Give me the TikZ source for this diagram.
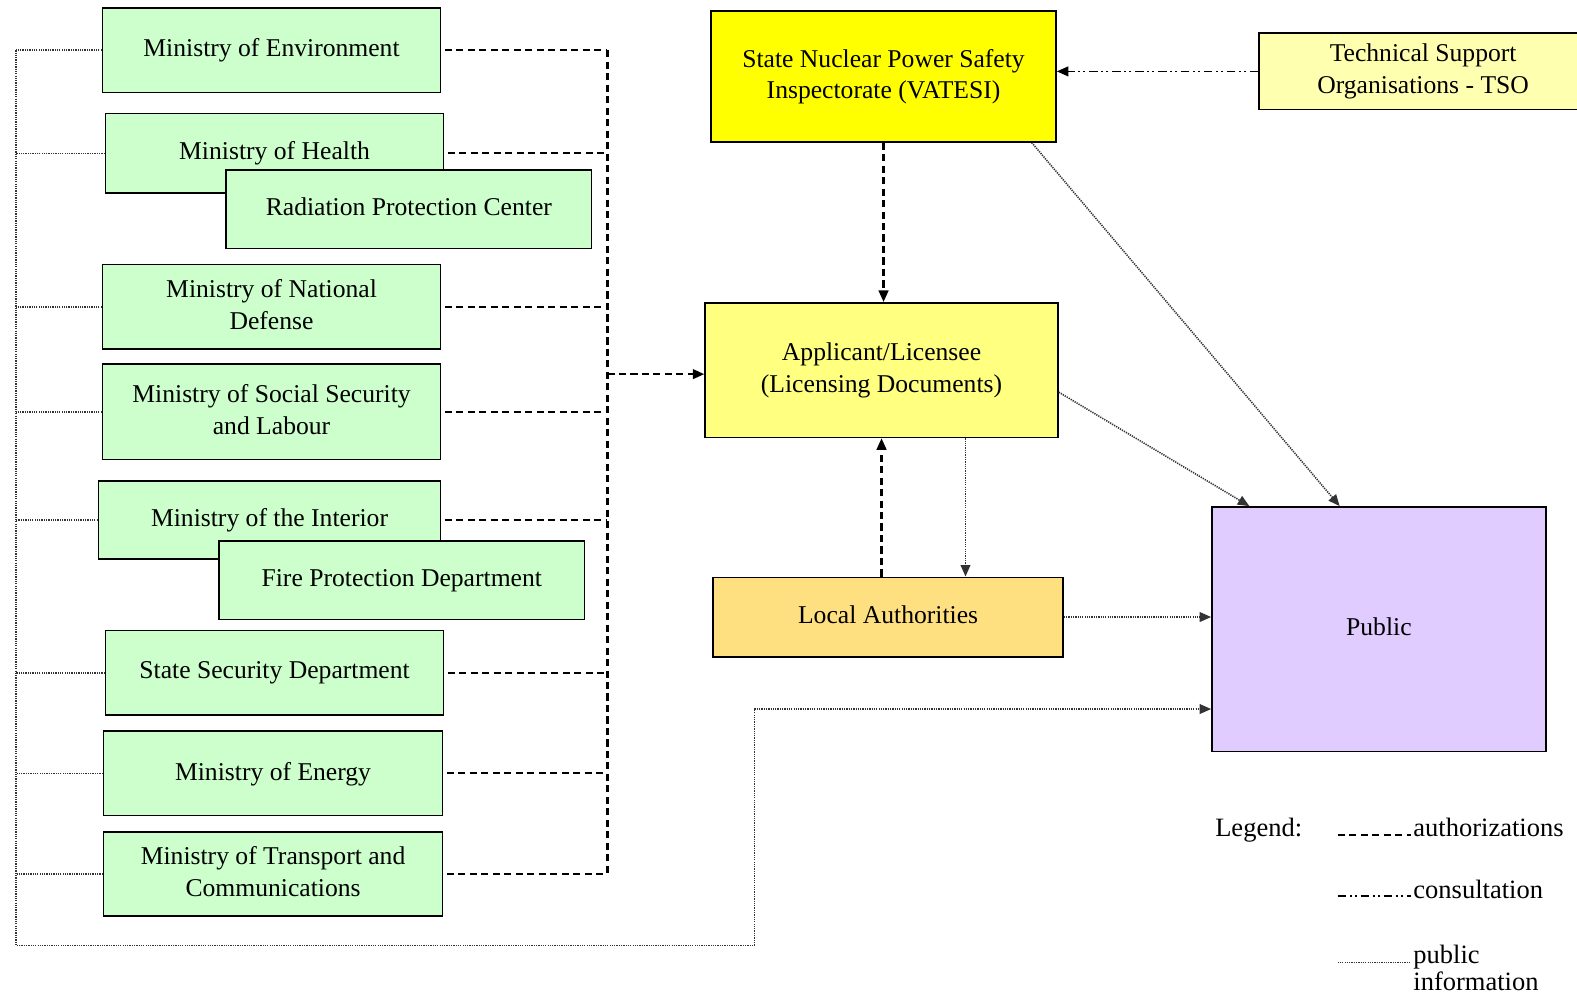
\documentclass[tikz,border=0pt]{standalone}
\usepackage{fontspec}
\setmainfont{Liberation Serif}
\usetikzlibrary{arrows.meta}
\definecolor{mingreen}{HTML}{CCFFCC}
\definecolor{vatyellow}{HTML}{FFFF00}
\definecolor{tsoyellow}{HTML}{FFFFB0}
\definecolor{applyellow}{HTML}{FFFF80}
\definecolor{localorange}{HTML}{FFE080}
\definecolor{publilac}{HTML}{E0CCFF}

\begin{document}
\begin{tikzpicture}[x=0.02cm,y=-0.02cm,>={Triangle[length=6.5pt,width=5.5pt]},
  font=\fontsize{14.5}{18}\selectfont,
  box/.style={draw,line width=0.9pt,fill=mingreen,align=center,inner sep=0pt,text depth=0.6ex},
  sz/.style 2 args={minimum width=#1*0.02cm,minimum height=#2*0.02cm},
  auth/.style={line width=1.2pt,dash pattern=on 4pt off 2.5pt},
  consult/.style={line width=1pt,dash pattern=on 5pt off 2pt on 1pt off 2pt on 1pt off 2pt},
  pubinfo/.style={line width=0.9pt,black!80,dash pattern=on 0.7pt off 0.6pt},
  legtext/.style={anchor=base west,inner sep=0pt,font=\fontsize{15}{15.5}\selectfont}]
  \clip (0,0) rectangle (1568,990);
  % ministries
  \node[box,sz={336}{84}] (env) at (270,50) {Ministry of Environment};
  \node[box,sz={336}{79}] (health) at (273,152.5) {Ministry of Health};
  \node[box,sz={363}{78}] (rpc) at (406.5,208) {Radiation Protection Center};
  \node[box,sz={336}{84}] (defense) at (270,305) {Ministry of National\\Defense};
  \node[box,sz={336}{95}] (social) at (270,409.5) {Ministry of Social Security\\and Labour};
  \node[box,sz={340}{78}] (interior) at (268,517) {Ministry of the Interior};
  \node[box,sz={363}{78}] (fire) at (399.5,577) {Fire Protection Department};
  \node[box,sz={336}{84}] (secur) at (273,669) {State Security Department};
  \node[box,sz={337}{84}] (energy) at (271.5,769) {Ministry of Energy};
  \node[box,sz={337}{84}] (transp) at (271.5,869) {Ministry of Transport and\\Communications};
  % regulator, licensee, public
  \node[box,fill=vatyellow,sz={343}{130}] (vatesi) at (878.5,76)
    {State Nuclear Power Safety\\Inspectorate (VATESI)};
  \node[box,fill=tsoyellow,sz={326}{76}] (tso) at (1415,71)
    {Technical Support\\Organisations - TSO};
  \node[box,fill=applyellow,sz={351}{134}] (appl) at (876.5,368)
    {Applicant/Licensee\\(Licensing Documents)};
  \node[box,fill=localorange,sz={348}{79}] (local) at (883,613.5) {Local Authorities};
  \node[box,fill=publilac,sz={332}{243}] (public) at (1371,625.5) {Public};

  % authorizations
  \coordinate (bus) at (604,372);
  \foreach \m in {env,health,defense,social,interior,secur,energy,transp}
    \draw[auth,shorten <=2pt] (\m.east) -- (\m.east -| bus);
  \draw[auth] (env.east -| bus) -- (transp.east -| bus);
  \draw[auth,->] (bus) -- (bus -| appl.west);
  \draw[auth,->] (vatesi.south) -- (vatesi.south |- appl.north);
  \draw[auth,->] (appl.south |- local.north) -- (appl.south);
  \draw[consult,->] (tso.west) -- (tso.west -| vatesi.east);

  % public information
  \coordinate (lbus) at (16,940);
  \coordinate (bend) at (750,940);
  \foreach \m in {env,health,defense,social,interior,secur,energy,transp}
    \draw[pubinfo] (\m.west) -- (\m.west -| lbus);
  \draw[pubinfo,->] (env.west -| lbus) -- (lbus) -- (bend) |- ([yshift=-1.59cm]public.west);
  \draw[pubinfo,->] ([xshift=1.67cm]appl.south) coordinate (adown) -- (adown |- local.north);
  \draw[pubinfo,->] (local.east) -- (local.east -| public.west);
  \draw[pubinfo,->] ([xshift=-0.5cm]vatesi.south east) -- ([xshift=-0.78cm]public.north);
  \draw[pubinfo,->] ([yshift=-0.44cm]appl.east) -- ([xshift=0.76cm]public.north west);

  % legend
  \node[legtext] (legend) at (1208,832) {Legend:};
  \node[legtext] (lauth) at (1405,832) {authorizations};
  \node[legtext] (lcons) at (1405,893) {consultation};
  \node[legtext] (lpub) at (1405,958)
    {\begin{tabular}[t]{@{}l@{}}public\\information\end{tabular}};
  \draw[auth,line width=0.9pt] (lauth.base west) ++(-75,-2) -- ++(73,0);
  \draw[consult,line width=1.2pt] (lcons.base west) ++(-75,-2) -- ++(73,0);
  \draw[pubinfo] (lpub.base west) ++(-75,-1) -- ++(73,0);
\end{tikzpicture}
\end{document}
